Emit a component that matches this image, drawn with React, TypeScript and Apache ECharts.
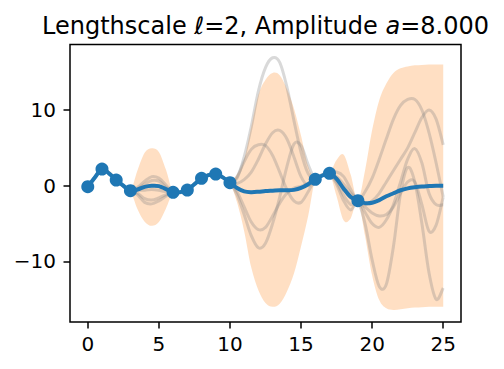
import React, { useEffect, useRef } from 'react';
import * as echarts from 'echarts';

const xGrid = [0, 0.5, 1, 1.5, 2, 2.5, 3, 3.5, 4, 4.5, 5, 5.5, 6, 6.5, 7, 7.5, 8, 8.5, 9, 9.5, 10, 10.5, 11, 11.5, 12, 12.5, 13, 13.5, 14, 14.5, 15, 15.5, 16, 16.5, 17, 17.5, 18, 18.5, 19, 19.5, 20, 20.5, 21, 21.5, 22, 22.5, 23, 23.5, 24, 24.5, 25];

const meanVals = [-0.13, 1.1, 2.2, 1.6, 0.75, 0.0, -0.66, -0.5, -0.15, 0.0, -0.05, -0.45, -0.87, -0.85, -0.57, 0.2, 0.97, 1.4, 1.54, 1.1, 0.4, -0.3, -0.75, -0.85, -0.8, -0.7, -0.65, -0.6, -0.6, -0.55, -0.3, 0.2, 0.84, 1.35, 1.63, 0.9, -0.4, -1.5, -1.98, -2.3, -2.25, -1.9, -1.4, -1.0, -0.6, -0.35, -0.2, -0.1, -0.05, 0, 0];

const upperVals = [-0.13, 1.2, 2.2, 1.7, 0.75, 0.1, -0.66, 2.05, 4.35, 4.95, 4.45, 2.1, -0.87, -0.75, -0.57, 0.3, 0.97, 1.5, 1.54, 1.2, 0.4, 1.5, 3.5, 7.8, 12.0, 14.0, 14.9, 14.6, 12.8, 10.2, 6.6, 2.6, 0.84, 1.45, 1.63, 3.4, 4.1, 1.4, -1.98, 2.0, 7.35, 11.3, 13.5, 14.9, 15.5, 15.75, 15.9, 15.95, 16.0, 16.0, 16.0];

const lowerVals = [-0.13, 1.0, 2.2, 1.5, 0.75, -0.1, -0.66, -3.1, -4.75, -5.3, -4.8, -3.0, -0.87, -0.95, -0.57, 0.1, 0.97, 1.3, 1.54, 1.0, 0.4, -2.2, -6.0, -10.8, -13.8, -15.5, -16.0, -15.6, -14.0, -11.6, -8.0, -4.0, 0.84, 1.25, 1.63, -1.4, -4.6, -4.3, -1.98, -6.6, -11.85, -15.1, -16.2, -16.4, -16.3, -16.2, -16.1, -16.05, -16.0, -16.0, -16.0];

const sample1 = [-0.13, 1.15, 2.2, 1.65, 0.75, 0.0, -0.66, -0.2, 0.6, 1.2, 1.0, 0.1, -0.87, -0.8, -0.57, 0.25, 0.97, 1.45, 1.54, 1.15, 0.4, 1.0, 3.8, 7.8, 12.5, 15.6, 16.9, 16.3, 13.1, 8.6, 4.4, 1.6, 0.84, 1.4, 1.63, 1.8, 1.2, -0.5, -1.98, -0.8, 1.0, 3.5, 6.2, 8.8, 10.6, 11.4, 11.4, 10.0, 7.0, 3.0, -1.5];
const sample2 = [-0.13, 1.05, 2.2, 1.75, 0.75, -0.1, -0.66, -1.0, -1.7, -1.9, -1.6, -1.2, -0.87, -0.9, -0.57, 0.15, 0.97, 1.4, 1.54, 1.05, 0.4, 0.3, 0.8, 1.8, 3.5, 5.5, 7.0, 7.3, 6.2, 3.8, 1.2, 0.0, 0.84, 1.3, 1.63, 0.5, -1.3, -2.5, -1.98, -2.5, -2.0, -1.0, 0.5, 2.0, 3.5, 5.0, 7.0, 9.0, 10.0, 8.8, 5.4];
const sample3 = [-0.13, 1.1, 2.2, 1.7, 0.75, -0.05, -0.66, -0.4, 0.2, 0.7, 0.6, -0.2, -0.87, -0.95, -0.57, 0.3, 0.97, 1.5, 1.54, 1.1, 0.4, 1.2, 3.2, 4.8, 5.4, 5.3, 4.0, 1.8, -0.5, -2.0, -2.2, -0.8, 0.84, 1.5, 1.63, 1.2, 0.2, -1.0, -1.98, -5.0, -9.8, -13.3, -13.0, -8.0, -1.0, 2.4, 0.5, -5.0, -11.5, -15.0, -13.5];
const sample4 = [-0.13, 1.1, 2.2, 1.7, 0.75, 0.0, -0.66, -1.2, -2.2, -2.4, -2.0, -1.4, -0.87, -0.85, -0.57, 0.2, 0.97, 1.45, 1.54, 1.1, 0.4, -1.2, -3.8, -6.6, -8.2, -7.6, -5.0, -1.5, 2.5, 5.5, 5.3, 2.8, 0.84, 1.35, 1.63, 0.2, -2.0, -3.2, -1.98, -3.5, -5.0, -5.5, -4.5, -2.5, 0.5, 3.5, 4.9, 3.0, -1.0, -2.5, -2.5];
const sample5 = [-0.13, 1.1, 2.2, 1.7, 0.75, -0.05, -0.66, -0.6, -0.6, -0.5, -0.6, -0.8, -0.87, -0.9, -0.57, 0.25, 0.97, 1.45, 1.54, 1.1, 0.4, -0.8, -2.8, -4.8, -5.8, -5.5, -4.0, -2.3, -1.0, -0.3, -0.1, 0.3, 0.84, 1.4, 1.63, 1.0, -0.5, -1.6, -1.98, -2.8, -3.6, -4.0, -3.8, -2.8, -1.0, 0.5, 0.5, -2.5, -6.0, -5.2, -1.5];
const samples = [sample1, sample2, sample3, sample4, sample5];

const obsX = [0, 1, 2, 3, 6, 7, 8, 9, 10, 16, 17, 19];
const obsY = [-0.13, 2.2, 0.75, -0.66, -0.87, -0.57, 0.97, 1.54, 0.4, 0.84, 1.63, -1.98];

const xTicks = [0, 5, 10, 15, 20, 25];
const yTicks = [-10, 0, 10];

const titleText = 'Lengthscale {i|ℓ}=2, Amplitude {i|a}=8.000';

function smoothPath(pts: number[][], first: boolean): string {
  let d = (first ? 'M' : 'L') + pts[0][0] + ' ' + pts[0][1];
  for (let i = 0; i < pts.length - 1; i++) {
    const p0 = pts[i - 1] || pts[i];
    const p1 = pts[i];
    const p2 = pts[i + 1];
    const p3 = pts[i + 2] || p2;
    const c1x = p1[0] + (p2[0] - p0[0]) / 6;
    const c1y = p1[1] + (p2[1] - p0[1]) / 6;
    const c2x = p2[0] - (p3[0] - p1[0]) / 6;
    const c2y = p2[1] - (p3[1] - p1[1]) / 6;
    d += ' C' + c1x + ' ' + c1y + ' ' + c2x + ' ' + c2y + ' ' + p2[0] + ' ' + p2[1];
  }
  return d;
}

function curveSeries(ys: number[], color: string, width: number) {
  return {
    type: 'custom',
    data: [[xGrid[0], ys[0]]],
    silent: true,
    renderItem: (params: any, api: any) => {
      const pts = xGrid.map((x, i) => api.coord([x, ys[i]]));
      return {
        type: 'path',
        shape: { pathData: smoothPath(pts, true) },
        style: { fill: 'none', stroke: color, lineWidth: width, lineJoin: 'round', lineCap: 'butt' },
      };
    },
  };
}

export default function App() {
  const ref = useRef<HTMLDivElement>(null);
  useEffect(() => {
    document.body.style.margin = '0';
    const chart = echarts.init(ref.current as HTMLDivElement, null, { renderer: 'svg' });
    const font = 'DejaVu Sans';
    const fmt = (v: number) => (v < 0 ? '\u2212' + Math.abs(v) : String(v));
    const series: any[] = [
      {
        type: 'scatter',
        data: obsX.map((x, i) => [x, obsY[i]]),
        symbolSize: 13,
        itemStyle: { color: '#1f77b4', opacity: 1 },
        silent: true,
      },
      {
        type: 'custom',
        data: [[xGrid[0], meanVals[0]]],
        silent: true,
        renderItem: (params: any, api: any) => {
          const up = xGrid.map((x, i) => api.coord([x, upperVals[i]]));
          const lo = xGrid.map((x, i) => api.coord([x, lowerVals[i]])).reverse();
          const d = smoothPath(up, true) + ' ' + smoothPath(lo, false) + ' Z';
          return {
            type: 'path',
            shape: { pathData: d },
            style: { fill: 'rgba(255,127,14,0.25)', stroke: 'none' },
          };
        },
      },
    ];
    samples.forEach((s) => series.push(curveSeries(s, 'rgba(128,128,128,0.3)', 3)));
    series.push(curveSeries(meanVals, '#1f77b4', 4));

    chart.setOption({
      animation: false,
      grid: {
        left: 70, right: 43, top: 44.5, bottom: 47,
        show: true, borderColor: '#000', borderWidth: 1.5, backgroundColor: 'transparent',
      },
      xAxis: {
        type: 'value', min: -1.25, max: 26.25,
        axisLine: { show: false, onZero: false },
        splitLine: { show: false },
        axisTick: { show: true, inside: false, length: 6.5, lineStyle: { color: '#000', width: 1.5 }, customValues: xTicks },
        axisLabel: { customValues: xTicks, formatter: fmt, fontFamily: font, fontSize: 20, color: '#000', margin: 12 },
      },
      yAxis: {
        type: 'value', min: -18.0, max: 18.65,
        axisLine: { show: false, onZero: false },
        splitLine: { show: false },
        axisTick: { show: true, inside: false, length: 6.5, lineStyle: { color: '#000', width: 1.5 }, customValues: yTicks },
        axisLabel: { customValues: yTicks, formatter: fmt, fontFamily: font, fontSize: 20, color: '#000', margin: 14 },
      },
      graphic: [
        {
          type: 'text',
          x: 265.5,
          y: 25.5,
          style: {
            text: titleText,
            fontFamily: font,
            fontSize: 24,
            fill: '#000',
            align: 'center',
            verticalAlign: 'middle',
            rich: { i: { fontStyle: 'italic', fontFamily: font, fontSize: 24, fill: '#000' } },
          },
        },
      ],
      series,
    });
    return () => chart.dispose();
  }, []);
  return <div ref={ref} style={{ position: 'absolute', left: 0, top: 0, width: 504, height: 369 }} />;
}
